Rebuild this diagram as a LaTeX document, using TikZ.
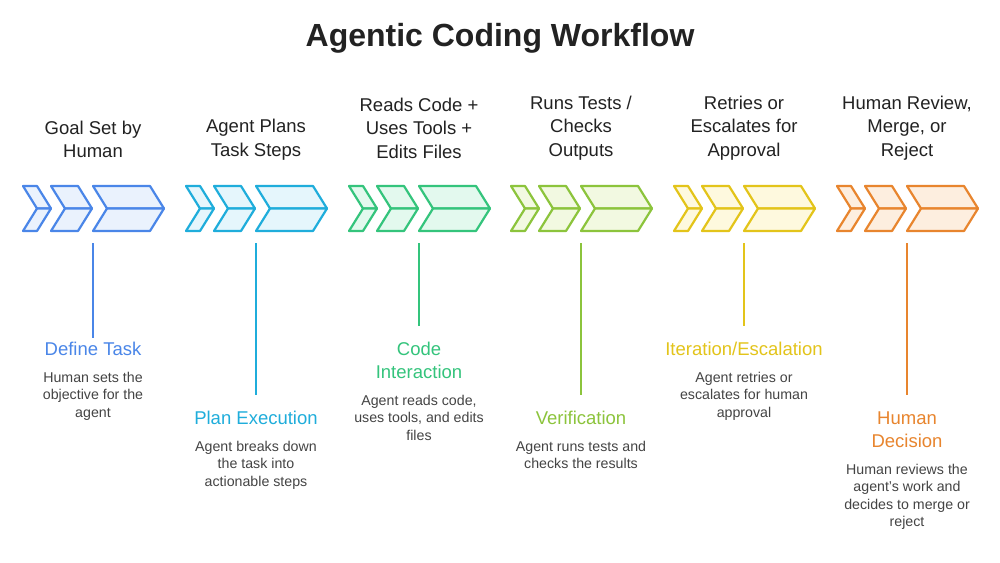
\documentclass[tikz,border=0pt]{standalone}
\usepackage{fontspec}
\setmainfont{Liberation Sans}
\usepackage{tikz}
\usetikzlibrary{positioning}

\definecolor{bluec}{HTML}{4A86E8}\definecolor{bluef}{HTML}{EAF2FD}
\definecolor{cyanc}{HTML}{1FADDB}\definecolor{cyanf}{HTML}{E5F6FC}
\definecolor{greenc}{HTML}{34C47C}\definecolor{greenf}{HTML}{E3F9EE}
\definecolor{limec}{HTML}{8CC43C}\definecolor{limef}{HTML}{F2F9E1}
\definecolor{yellowc}{HTML}{E3C41A}\definecolor{yellowf}{HTML}{FEF9DE}
\definecolor{orangec}{HTML}{E8852E}\definecolor{orangef}{HTML}{FDEEDF}
\definecolor{textdark}{HTML}{222222}
\definecolor{textgray}{HTML}{444444}

\tikzset{
  chevrons/.pic={
    \foreach \a/\b in {0/14,28/55,70/127}{
      \filldraw (\a,186) -- (\b,186) -- (\b+14,208.5) -- (\a+14,208.5) -- cycle;
      \filldraw (\a+14,208.5) -- (\b+14,208.5) -- (\b,231) -- (\a,231) -- cycle;
    }
    \coordinate (-bot) at (70,243);
  }
}

\begin{document}
\begin{tikzpicture}[x=1pt,y=-1pt,
  chev/.style={line width=2.2pt,line join=round},
  toplbl/.style={align=center,text=textdark,inner sep=0pt,font=\fontsize{18.5}{23.5}\selectfont},
  phase/.style={align=center,inner sep=4pt,font=\fontsize{18.5}{23}\selectfont},
  descr/.style={align=center,text=textgray,inner sep=0pt,below=12pt of #1,font=\fontsize{14.2}{17.5}\selectfont},
  stem/.style={line width=1.6pt,draw=#1}]
\fill[white] (0,0) rectangle (1000,562);
\useasboundingbox (0,0) rectangle (1000,562);

\node[font=\fontsize{32}{36}\selectfont\bfseries,text=textdark] (title) at (500,38) {Agentic Coding Workflow};

% chevron groups
\pic[chev,draw=bluec,fill=bluef] (g1) at (23,0) {chevrons};
\pic[chev,draw=cyanc,fill=cyanf] (g2) at (186,0) {chevrons};
\pic[chev,draw=greenc,fill=greenf] (g3) at (349,0) {chevrons};
\pic[chev,draw=limec,fill=limef] (g4) at (511,0) {chevrons};
\pic[chev,draw=yellowc,fill=yellowf] (g5) at (674,0) {chevrons};
\pic[chev,draw=orangec,fill=orangef] (g6) at (837,0) {chevrons};

% labels above
\node[toplbl] (t1) at (93,139.5) {Goal Set by\\Human};
\node[toplbl] (t2) at (256,139.5) {Agent Plans\\Task Steps};
\node[toplbl] (t3) at (419,128) {Reads Code +\\Uses Tools +\\Edits Files};
\node[toplbl] (t4) at (581,128) {Runs Tests /\\Checks\\Outputs};
\node[toplbl] (t5) at (744,128) {Retries or\\Escalates for\\Approval};
\node[toplbl] (t6) at (907,128) {Human Review,\\Merge, or\\Reject};

% phases
\node[phase,text=bluec] (p1) at (93,349) {Define Task};
\node[phase,text=cyanc] (p2) at (256,418) {Plan Execution};
\node[phase,text=greenc] (p3) at (419,360.5) {Code\\Interaction};
\node[phase,text=limec] (p4) at (581,418) {Verification};
\node[phase,text=yellowc] (p5) at (744,349) {Iteration/Escalation};
\node[phase,text=orangec] (p6) at (907,429.5) {Human\\Decision};

% descriptions
\node[descr=p1] (d1) {Human sets the\\objective for the\\agent};
\node[descr=p2] (d2) {Agent breaks down\\the task into\\actionable steps};
\node[descr=p3] (d3) {Agent reads code,\\uses tools, and edits\\files};
\node[descr=p4] (d4) {Agent runs tests and\\checks the results};
\node[descr=p5] (d5) {Agent retries or\\escalates for human\\approval};
\node[descr=p6] (d6) {Human reviews the\\agent's work and\\decides to merge or\\reject};

% stems
\draw[stem=bluec] (g1-bot) -- (p1.north);
\draw[stem=cyanc,shorten >=12pt] (g2-bot) -- (p2.north);
\draw[stem=greenc,shorten >=12pt] (g3-bot) -- (p3.north);
\draw[stem=limec,shorten >=12pt] (g4-bot) -- (p4.north);
\draw[stem=yellowc,shorten >=12pt] (g5-bot) -- (p5.north);
\draw[stem=orangec,shorten >=12pt] (g6-bot) -- (p6.north);
\end{tikzpicture}
\end{document}
